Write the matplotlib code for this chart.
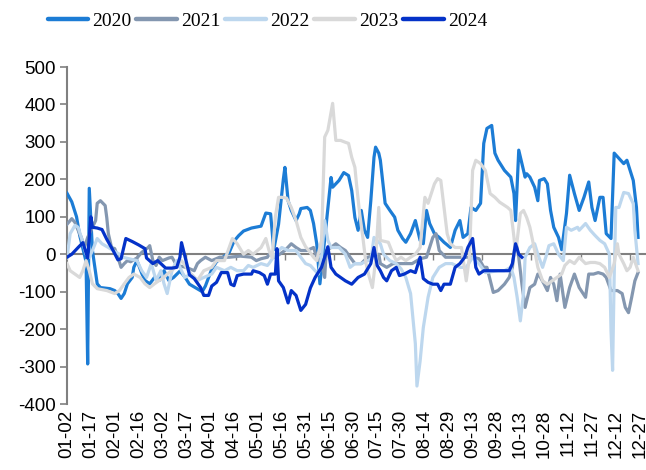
import pandas as pd
import numpy as np
import matplotlib
matplotlib.use("Agg")
import matplotlib.pyplot as plt

plt.rcParams['font.family'] = ['Liberation Sans', 'DejaVu Sans']
plt.rcParams['axes.unicode_minus'] = False

# days counted from 01-02 (2024 calendar)
d2020 = [0, 3, 6, 8, 10, 12, 13, 14, 16, 19, 21, 27, 30, 32, 34, 36, 38, 41, 42, 44, 47, 49, 52, 55, 58, 61, 64, 67,
         71, 74, 77, 81, 85, 87, 91, 94, 99, 102, 105, 108, 111, 116, 122, 125, 128, 130, 133, 136, 137, 138, 139, 141,
         144, 146, 147, 151, 153, 155, 157, 159, 162, 166, 167, 171, 174, 177, 179, 181, 183, 185, 187, 189, 191, 193,
         194, 196, 197, 200, 203, 206, 208, 211, 213, 216, 219, 222, 224, 226, 228, 231, 234, 237, 241, 244, 247, 249,
         252, 254, 257, 260, 262, 264, 267, 269, 271, 275, 279, 281, 282, 284, 286, 288, 289, 291, 294, 296, 297, 300,
         302, 304, 306, 309, 311, 314, 316, 319, 322, 325, 328, 330, 332, 335, 337, 339, 342, 344, 347, 350, 352, 354,
         356, 358, 359]
v2020 = [163, 140, 100, 50, 15, -20, -293, 176, 10, -79, -89, -92, -97, -105, -118, -105, -79, -62, -35, -17, -51, -70,
         -79, -62, -70, -44, -70, -62, -45, -60, -80, -90, -100, -85, -40, -20, -5, 5, 35, 50, 62, 70, 75, 110, 108, 12,
         80, 200, 232, 188, 143, 117, 90, 108, 122, 125, 117, 82, 28, -79, 40, 205, 179, 197, 218, 210, 170, 98, 64, 117,
         64, 45, 143, 259, 286, 270, 251, 136, 117, 99, 64, 42, 32, 55, 90, 37, 28, 117, 82, 55, 45, 32, 18, 64, 90, 45,
         55, 125, 117, 136, 296, 336, 344, 270, 251, 224, 206, 162, 90, 278, 242, 206, 215, 206, 179, 143, 197, 202, 188,
         117, 72, 45, 12, 109, 211, 162, 117, 152, 193, 125, 90, 152, 152, 55, 42, 270, 256, 242, 251, 224, 197, 125, 45]

d2021 = [0, 3, 5, 7, 9, 11, 13, 16, 18, 19, 21, 24, 25, 26, 28, 30, 32, 34, 36, 38, 40, 44, 47, 51, 52, 54, 56, 58, 60,
         64, 66, 69, 75, 80, 82, 84, 87, 91, 96, 102, 109, 116, 119, 122, 126, 127, 131, 137, 141, 144, 147, 151, 155,
         157, 160, 162, 163, 166, 169, 172, 175, 178, 181, 185, 189, 196, 197, 201, 205, 209, 213, 217, 222, 226, 230,
         232, 234, 238, 242, 247, 251, 255, 259, 262, 264, 268, 271, 275, 278, 280, 282, 284, 286, 288, 291, 294, 296,
         297, 300, 302, 304, 306, 308, 310, 313, 316, 319, 322, 326, 328, 331, 334, 337, 339, 342, 346, 349, 351, 353,
         355, 357, 359]
v2021 = [80, 95, 85, 64, 45, 18, 45, 72, 90, 136, 143, 130, 98, 55, 18, 15, -8, -35, -25, -17, -20, -10, 5, 18, 23, -17,
         -30, -8, -17, -10, -8, -30, -35, -44, -25, -17, -8, -17, -8, -8, -5, -8, -17, -12, -8, 0, -8, 10, 28, 18, 10,
         10, 18, -8, -25, -62, 10, 18, 28, 18, 10, -8, -25, -25, -8, 0, -25, -35, -25, -25, -25, -25, -12, -8, 45, 55,
         10, -8, -8, -8, -8, -8, -12, -35, -35, -102, -97, -80, -62, -35, 37, -8, -80, -142, -89, -80, -53, -57, -80,
         -97, -62, -80, -124, -53, -142, -89, -53, -89, -115, -53, -53, -49, -53, -62, -97, -97, -105, -142, -156, -115,
         -71, -49]

d2022 = [0, 2, 5, 7, 9, 12, 14, 16, 19, 22, 26, 29, 33, 35, 39, 44, 47, 50, 53, 56, 59, 61, 63, 66, 69, 74, 78, 82, 86,
         91, 94, 99, 103, 107, 111, 114, 117, 122, 126, 127, 131, 135, 139, 144, 147, 150, 153, 156, 158, 160, 162, 164,
         166, 171, 175, 178, 181, 185, 189, 191, 193, 197, 199, 203, 207, 210, 213, 216, 219, 220, 222, 224, 227, 230,
         234, 238, 242, 247, 251, 255, 259, 263, 271, 275, 279, 281, 283, 285, 287, 288, 291, 294, 296, 299, 301, 303,
         306, 309, 312, 314, 317, 321, 322, 326, 329, 332, 335, 338, 341, 342, 343, 344, 345, 347, 350, 353, 356, 357,
         359]
v2022 = [-10, 55, 77, 72, 45, 0, -8, 10, 42, 28, 18, 10, 0, -8, -12, -17, -44, -62, -25, -70, -44, -79, -105, -44, -17,
         -62, -53, -70, -62, -53, -35, -44, -35, -44, -44, -30, -35, -25, -30, -25, 0, 18, 10, 10, -8, -25, -30, -44, -53,
         -8, 90, 37, 18, 18, 0, -35, -25, -25, -17, -17, 45, 28, 0, -17, -25, -39, -62, -105, -239, -352, -285, -196,
         -115, -62, -35, -25, -25, -35, -35, -8, -25, -49, -44, -44, -35, -62, -115, -178, -105, -8, 18, 28, 0, -35, -8,
         23, 28, 0, -17, 72, 64, 72, 64, 82, 64, 50, 37, 28, 0, -204, -310, -60, 125, 125, 165, 162, 135, 64, -25]

d2023 = [0, 2, 5, 8, 10, 12, 14, 16, 19, 25, 30, 33, 36, 39, 42, 46, 49, 52, 55, 58, 61, 63, 67, 72, 78, 82, 86, 91, 94,
         99, 102, 104, 107, 111, 114, 117, 122, 125, 127, 129, 131, 133, 135, 138, 141, 144, 147, 150, 152, 155, 157, 160,
         162, 164, 167, 169, 172, 175, 177, 179, 181, 182, 184, 186, 188, 190, 192, 194, 196, 197, 202, 205, 207, 210,
         213, 216, 219, 222, 225, 227, 229, 231, 233, 235, 237, 239, 241, 244, 248, 251, 253, 255, 257, 260, 263, 266,
         269, 272, 277, 279, 281, 282, 285, 287, 289, 291, 294, 296, 299, 302, 305, 308, 311, 313, 316, 319, 322, 326,
         329, 332, 335, 338, 341, 344, 346, 347, 350, 352, 354, 356, 359]
v2023 = [-25, -44, -53, -62, -44, -17, -44, -79, -92, -97, -105, -97, -79, -62, -53, -62, -79, -89, -79, -70, -62, -53,
         -39, -17, -53, -70, -44, -35, -17, -17, 18, 42, 28, 0, 10, 0, 18, 42, 10, -10, 100, 152, 152, 150, 125, 90, 45,
         20, 10, -8, -17, 37, 313, 331, 403, 304, 304, 299, 296, 259, 232, 188, 108, 45, -25, -60, -89, -17, 125, 37, 32,
         0, -17, -8, -17, -8, 0, 18, 152, 136, 162, 188, 202, 197, 125, 55, 28, 18, 18, -71, -8, 224, 251, 242, 224, 162,
         152, 139, 125, 117, 45, 0, 109, 117, 98, 72, 10, -35, -71, -80, -71, -62, -53, -30, -17, -25, -8, -25, -22, -22,
         -25, -35, -62, -25, 28, 0, -25, -44, -35, -8, -44]

d2024 = [0, 3, 7, 10, 13, 15, 16, 19, 22, 25, 29, 32, 34, 37, 41, 45, 49, 50, 54, 57, 59, 62, 66, 69, 71, 72, 75, 77,
         80, 84, 86, 89, 91, 94, 97, 101, 103, 105, 107, 111, 116, 117, 121, 124, 126, 128, 131, 132, 133, 136, 139, 141,
         144, 147, 150, 153, 156, 160, 162, 164, 166, 169, 172, 175, 179, 183, 187, 191, 193, 195, 197, 199, 201, 204,
         207, 209, 212, 216, 219, 222, 224, 227, 230, 233, 235, 237, 241, 244, 247, 250, 252, 255, 257, 259, 262, 271,
         278, 280, 282, 284, 286]
v2024 = [-8, 0, 18, 31, -10, 100, 72, 70, 66, 40, 10, -15, -12, 42, 34, 25, 15, -10, -25, -17, -25, -37, -37, -35, -8,
         31, -20, -55, -65, -89, -110, -110, -85, -75, -49, -49, -80, -84, -57, -53, -53, -44, -49, -57, -80, -53, -53,
         15, -71, -89, -130, -97, -110, -150, -134, -90, -62, -35, -8, 20, -35, -53, -62, -71, -80, -62, -53, -25, 18,
         -30, -44, -62, -71, -44, -35, -57, -53, -44, -49, -8, -65, -75, -80, -80, -97, -80, -80, -35, -25, -8, 18, 42,
         -35, -53, -44, -44, -44, -25, 28, 0, -8]

years = ['2020', '2021', '2022', '2023', '2024']
colors = ['#1C7CD5', '#8497B0', '#BDD7EE', '#D9D9D9', '#0432C8']
series = [(d2020, v2020), (d2021, v2021), (d2022, v2022), (d2023, v2023), (d2024, v2024)]

days = pd.date_range('2024-01-02', '2024-12-31')
label_pos = list(range(0, 361, 15))
label_txt = [days[i].strftime('%m-%d') for i in label_pos]

fig = plt.figure(figsize=(6.46, 4.70), dpi=100)
ax = fig.add_axes([0.1037, 0.1404, 0.8963, 0.717])

for (dd, vv), yr, c in zip(series, years, colors):
    ax.plot(dd, vv, color=c, lw=2.3, label=yr, zorder=3, solid_joinstyle='round')

ax.set_xlim(0, 364)
ax.set_ylim(-400, 500)
ax.set_yticks(range(-400, 501, 100))

# zero line with small tick marks
ax.spines['bottom'].set_position(('data', 0))
ax.spines['bottom'].set_color('#808080')
ax.spines['bottom'].set_linewidth(1.5)
ax.spines['bottom'].set_zorder(2)
ax.set_xticks(list(range(13, 362, 31)))
ax.tick_params(axis='x', direction='out', length=4, width=1, color='#808080', labelbottom=False)

ax.spines['left'].set_color('#808080')
ax.spines['left'].set_linewidth(1.5)
ax.spines['top'].set_visible(False)
ax.spines['right'].set_visible(False)
ax.tick_params(axis='y', direction='out', length=5, width=1.2, color='#808080', labelsize=13.5, pad=3)

# date labels below the plot
sec = ax.secondary_xaxis(0.0)
sec.set_xticks(label_pos)
sec.set_xticklabels(label_txt, rotation=90, fontsize=13.5)
sec.tick_params(length=0, pad=4)
sec.spines['bottom'].set_visible(False)

leg = ax.legend(loc='center', bbox_to_anchor=(0.414, 0.955), bbox_transform=fig.transFigure, ncol=5,
                frameon=False, prop={'family': 'Liberation Serif', 'size': 14}, handlelength=2.1,
                handletextpad=0.2, columnspacing=0.25)
for h in leg.get_lines():
    h.set_linewidth(3.2)
    h.set_solid_capstyle('round')

fig.savefig('out.png', dpi=100)
